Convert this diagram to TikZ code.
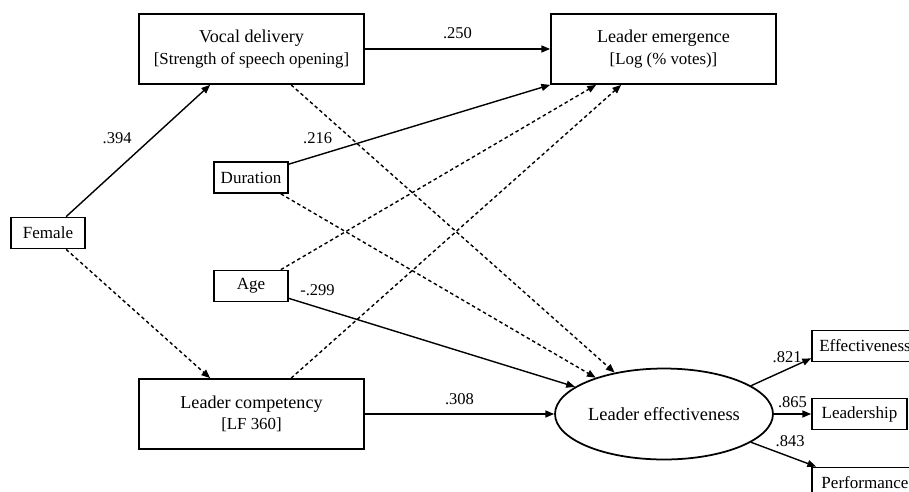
\documentclass[tikz,border=0pt]{standalone}
\usepackage{fontspec}
\setmainfont{Liberation Serif}
\usetikzlibrary{shapes,arrows.meta,positioning,calc}

\begin{document}
\begin{tikzpicture}[x=0.02cm, y=-0.02cm,
    bigbox/.style={draw, line width=1pt, minimum width=4.5cm, minimum height=1.4cm, align=center, font=\fontsize{10.3}{12}\selectfont},
    smallbox/.style={draw, line width=1pt, minimum height=0.62cm, inner sep=0pt, font=\fontsize{9.7}{11}\selectfont},
    solidarr/.style={line width=0.8pt, -{Triangle[length=5pt,width=4pt]}},
    dasharr/.style={solidarr, dash pattern=on 2pt off 1.6pt},
    coef/.style={font=\fontsize{9.4}{11}\selectfont}]
    \useasboundingbox (0,0) rectangle (909,491);

    % Constructs
    \node[bigbox] (vocal) at (251.5,49) {Vocal delivery\\{\fontsize{9.6}{12}\selectfont [Strength of speech opening]}};
    \node[bigbox] (emerg) at (663.5,49) {Leader emergence\\{\fontsize{9.6}{12}\selectfont [Log (\% votes)]}};
    \node[bigbox] (comp) at (251.5,414) {Leader competency\\{\fontsize{9.6}{12}\selectfont [LF 360]}};
    \node[draw, ellipse, line width=1pt, minimum width=4.36cm, minimum height=1.82cm, inner sep=0pt, font=\fontsize{10.5}{12}\selectfont] (eff) at (664,414) {Leader effectiveness};

    % Observed variables
    \node[smallbox, minimum width=1.48cm] (female) at (48,233) {Female};
    \node[smallbox, minimum width=1.48cm] (dur) at (251,177.5) {Duration};
    \node[smallbox, minimum width=1.48cm] (age) at (251,286) {Age};
    \node[smallbox, minimum width=2.12cm] (effbox) at (865,346) {Effectiveness};
    \node[smallbox, minimum width=1.9cm] (leadbox) at (859.5,414) {Leadership};
    \node[smallbox, minimum width=2.12cm] (perfbox) at (865,483) {Performance};

    % Paths
    \draw[solidarr] ($(female.north west)+(56,0)$) -- ($(vocal.south west)+(72,0)$) node[coef, midway, above left] {.394};
    \draw[dasharr] ($(female.south west)+(56,0)$) -- ($(comp.north west)+(72,0)$);
    \draw[solidarr] (vocal) -- (emerg) node[coef, midway, above=2pt] {.250};
    \draw[solidarr] ($(dur.north east)+(0,3)$) -- (emerg.south west) node[coef, pos=0.11, above=3pt] {.216};
    \draw[dasharr] ($(vocal.south west)+(153,0)$) -- (eff.140);
    \draw[dasharr] ($(dur.south east)+(-8,0)$) -- (eff.152);
    \draw[dasharr] ($(age.north east)+(-8,0)$) -- ($(emerg.south west)+(46,0)$);
    \draw[dasharr] ($(comp.north west)+(153,0)$) -- ($(emerg.south west)+(71,0)$);
    \draw[solidarr] ($(age.south east)+(0,-4)$) -- (eff.163) node[coef, pos=0.1, above=3pt] {-.299};
    \draw[solidarr] (comp) -- (eff) node[coef, midway, above=1.5pt] {.308};

    % Indicators
    \draw[solidarr] (eff.18) -- ($(effbox.south west)+(0,-4)$) node[coef, pos=0.6, above] {.821};
    \draw[solidarr] (eff) -- (leadbox) node[coef, midway, above] {.865};
    \draw[solidarr] (eff.-18) -- ($(perfbox.north west)+(5,0)$) node[coef, pos=0.6, above=2pt] {.843};
\end{tikzpicture}
\end{document}
